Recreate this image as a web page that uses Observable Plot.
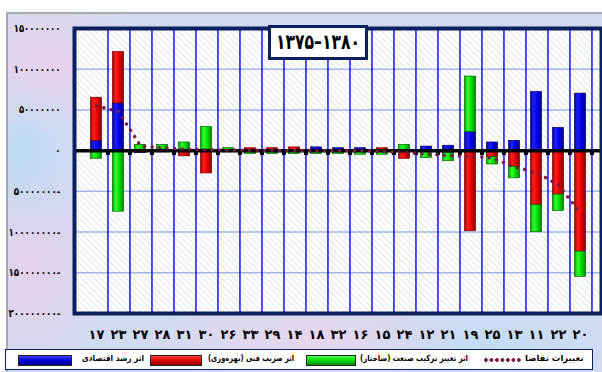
<!DOCTYPE html>
<html><head><meta charset="utf-8">
<script src="https://cdn.jsdelivr.net/npm/d3@7"></script>
<script src="https://cdn.jsdelivr.net/npm/@observablehq/plot@0.6"></script>
<style>
html,body{margin:0;padding:0;background:#fff;}
#wrap{position:relative;width:602px;height:372px;overflow:hidden;font-family:"DejaVu Sans",sans-serif;}
#bg{position:absolute;left:6px;top:12px;width:598px;height:362px;border-left:2px solid #a8a8b0;border-top:2px solid #a8a8b0;
background:
 radial-gradient(ellipse 110px 70px at 40px 50px, rgba(238,208,236,.85), transparent),
 radial-gradient(ellipse 90px 110px at 20px 250px, rgba(236,206,234,.8), transparent),
 radial-gradient(ellipse 160px 50px at 300px 325px, rgba(238,212,236,.7), transparent),
 radial-gradient(ellipse 60px 130px at 15px 160px, rgba(185,220,244,.9), transparent),
 radial-gradient(ellipse 140px 40px at 480px 330px, rgba(190,220,244,.8), transparent),
 #d2daf1;}
#chart{position:absolute;left:0;top:0;}
#title{position:absolute;left:268px;top:25px;width:94px;height:29px;border:3px solid #0c1f5e;background:#fff;overflow:hidden;}
#titletext{position:absolute;left:5px;top:0;font-weight:bold;font-size:21px;line-height:29px;white-space:nowrap;direction:ltr;color:#000;transform-origin:0 50%;}
#legend{position:absolute;left:5px;top:349px;width:586px;height:19px;border:1.5px solid #0c1f5e;background:#fff;}
.sw{position:absolute;top:5px;height:9px;border:1px solid #222;}
.lt{position:absolute;top:3px;font-size:8.5px;font-weight:bold;white-space:nowrap;direction:rtl;color:#000;transform-origin:0 50%;}
</style></head>
<body>
<div id="wrap">
<div id="bg"></div>
<div id="chart"></div>
<div id="title"><span id="titletext">۱۳۷۵–۱۳۸۰</span></div>
<div id="legend"></div>
</div>
<script>
// categories (sector codes) in displayed order
const categories = [17,23,27,28,31,30,26,33,29,14,18,32,16,15,24,12,21,19,25,13,11,22,20];
// اثر رشد اقتصادی (blue)
const growth    = [12e6,58e6,-3e6,-2e6,1e6,1e6,0,1e6,1e6,0,4e6,3e6,3e6,1e6,0,5e6,6e6,23e6,10e6,12e6,72e6,28e6,70e6];
// اثر ضریب فنی (بهره‌وری) (red)
const technical = [53e6,63e6,0,0,-7e6,-28e6,-2e6,2e6,2e6,4e6,0,0,0,2e6,-10e6,-1e6,-3e6,-99e6,-8e6,-20e6,-67e6,-54e6,-124e6];
// اثر تغییر ترکیب صنعت (ساختار) (green)
const structure = [-10e6,-75e6,7e6,7e6,9e6,28e6,3e6,-4e6,-4e6,-4e6,-4e6,-4e6,-5e6,-5e6,7e6,-8e6,-10e6,68e6,-9e6,-14e6,-33e6,-20e6,-31e6];
// تغییرات تقاضا (dotted line)
const demand    = [55e6,48e6,6e6,3.3e6,2e6,1.2e6,0.8e6,0.6e6,0.4e6,0.2e6,0,0,0,-1e6,-2.5e6,-4e6,-6e6,-7e6,-9e6,-20e6,-27e6,-42e6,-77e6];
const yTicks = [150e6,100e6,50e6,0,-50e6,-100e6,-150e6,-200e6];

const seriesNames = ["اثر رشد اقتصادی","اثر ضریب فنی (بهره‌وری)","اثر تغییر ترکیب صنعت (ساختار)"];
const seriesFill = ["url(#gBlue)","url(#gRed)","url(#gGreen)"];
const seriesStroke = ["#00006a","#7a0000","#006a00"];
const demandName = "تغییرات تقاضا";

const fa = n => String(n).replace(/\d/g, d => "۰۱۲۳۴۵۶۷۸۹"[d]);
const yFmt = v => v < 0 ? fa(-v) + "-" : fa(v);

const rows = [];
categories.forEach((c, i) => {
  [growth, technical, structure].forEach((arr, s) => rows.push({cat: c, s, v: arr[i]}));
});
const demandRows = categories.map((c, i) => ({cat: c, v: demand[i]}));

const W = 602, H = 345, ML = 74, MR = 1;
const bw = (W - ML - MR) / categories.length;

const plot = Plot.plot({
  width: W, height: H,
  marginLeft: ML, marginRight: MR, marginTop: 28, marginBottom: 32,
  style: {background: "transparent", fontFamily: "DejaVu Sans, sans-serif", color: "#000"},
  x: {domain: categories, padding: 0},
  y: {domain: [-200e6, 150e6]},
  color: {type: "identity"},
  marks: [
    Plot.frame({fill: "white"}),
    Plot.frame({fill: "url(#hatch)"}),
    Plot.gridY({ticks: yTicks, stroke: "#9fb6ea", strokeOpacity: 1, strokeWidth: 1.5}),
    Plot.ruleX(categories, {x: d => d, dx: bw / 2, stroke: "#0000ff", strokeWidth: 1.4}),
    Plot.barY(rows, {x: "cat", y: "v", fill: d => seriesFill[d.s], stroke: d => seriesStroke[d.s], strokeWidth: 0.7, insetLeft: 5.5, insetRight: 5.5}),
    Plot.ruleY([0], {stroke: "black", strokeWidth: 3.5}),
    Plot.dot(categories, {x: d => d, y: 0, dx: bw / 2, dy: 2.5, symbol: "square", r: 2.2, fill: "black"}),
    Plot.line(demandRows, {x: "cat", y: "v", stroke: "#7a1b45", strokeWidth: 3.4, strokeDasharray: "0.1,7.4", strokeLinecap: "round"}),
    Plot.frame({stroke: "#0c1f5e", strokeWidth: 4}),
    Plot.axisX({tickSize: 0, tickPadding: 16, tickFormat: fa, fontSize: 13, fontWeight: "bold", label: null}),
    Plot.axisY({ticks: yTicks, tickSize: 0, tickPadding: 14, tickFormat: yFmt, fontSize: 11, fontWeight: "bold", label: null})
  ]
});

const defs = `
<pattern id="hatch" patternUnits="userSpaceOnUse" width="4.5" height="4.5" patternTransform="rotate(-45)">
  <line x1="0" y1="0" x2="0" y2="4.5" stroke="#c9c9c9" stroke-width="1"/>
</pattern>
<linearGradient id="gBlue" x1="0" x2="1" y1="0" y2="0">
  <stop offset="0" stop-color="#00009a"/><stop offset="0.3" stop-color="#2020ff"/><stop offset="0.6" stop-color="#0000e8"/><stop offset="1" stop-color="#000088"/>
</linearGradient>
<linearGradient id="gRed" x1="0" x2="1" y1="0" y2="0">
  <stop offset="0" stop-color="#a00000"/><stop offset="0.3" stop-color="#ff2020"/><stop offset="0.6" stop-color="#e80000"/><stop offset="1" stop-color="#8a0000"/>
</linearGradient>
<linearGradient id="gGreen" x1="0" x2="1" y1="0" y2="0">
  <stop offset="0" stop-color="#00a000"/><stop offset="0.3" stop-color="#30ff30"/><stop offset="0.6" stop-color="#00e000"/><stop offset="1" stop-color="#008800"/>
</linearGradient>`;
d3.select(plot).insert("defs", ":first-child").html(defs);
document.getElementById("chart").appendChild(plot);

// narrow the y tick labels (reference uses a condensed face)
d3.select(plot).selectAll('g[aria-label="y-axis tick label"] text').each(function() {
  const n = this.textContent.length;
  this.setAttribute("textLength", n * 5.2);
  this.setAttribute("lengthAdjust", "spacingAndGlyphs");
});

function fitWidth(el, target) {
  const w = el.getBoundingClientRect().width;
  if (w > 0) el.style.transform = `scaleX(${Math.min(1, target / w)})`;
}
fitWidth(document.getElementById("titletext"), 84);

// legend
const legend = d3.select("#legend");
const items = [
  {sw: 12, swW: 52, tx: 76, tw: 62, fill: "linear-gradient(#4040ff,#0000d8 50%,#00008a)", name: seriesNames[0]},
  {sw: 144, swW: 50, tx: 202, tw: 86, fill: "linear-gradient(#ff4040,#e00000 50%,#8a0000)", name: seriesNames[1]},
  {sw: 300, swW: 48, tx: 354, tw: 108, fill: "linear-gradient(#50ff50,#00d800 50%,#008a00)", name: seriesNames[2]}
];
items.forEach(it => {
  legend.append("div").attr("class", "sw").style("left", it.sw + "px").style("width", it.swW + "px").style("background", it.fill);
  const t = legend.append("div").attr("class", "lt").style("left", it.tx + "px").text(it.name);
  fitWidth(t.node(), it.tw);
});
legend.append("div").style("position", "absolute").style("left", "478px").style("top", "8px").style("width", "38px").style("height", "4px")
  .style("background", "radial-gradient(circle at 2px 2px, #7a1b45 1.8px, transparent 2px) 0 0/5.5px 4px repeat-x");
const dt = legend.append("div").attr("class", "lt").style("left", "519px").text(demandName);
fitWidth(dt.node(), 62);
</script>
</body></html>
